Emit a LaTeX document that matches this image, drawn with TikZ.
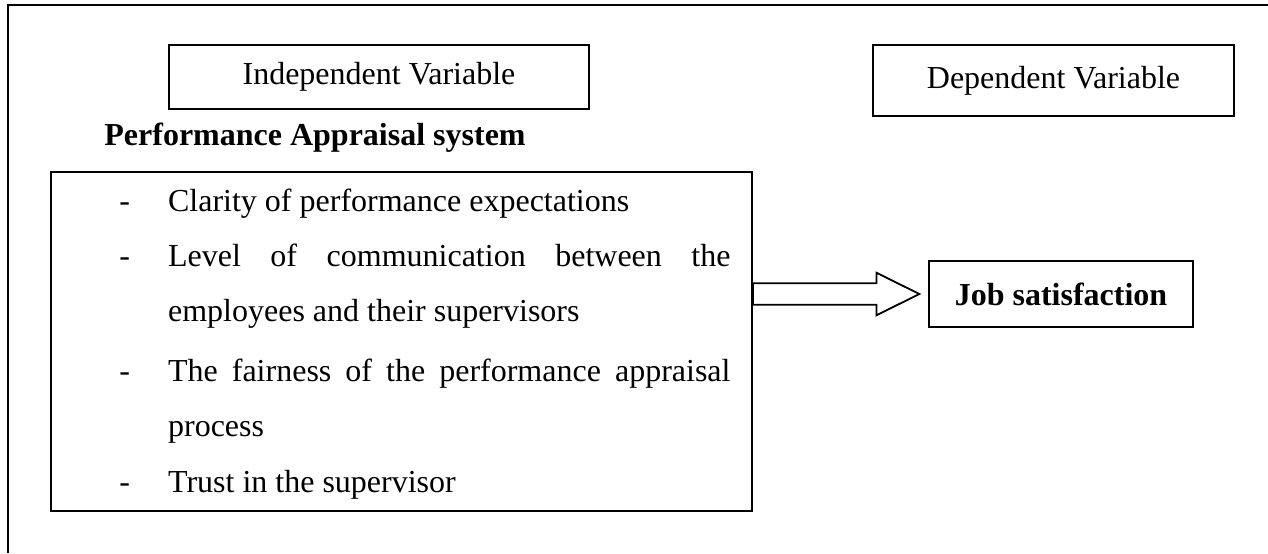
\documentclass[tikz,border=0pt]{standalone}
\usepackage{fontspec}
\setmainfont{Liberation Serif}
\usetikzlibrary{calc}
\tikzset{
    varbox/.style={draw,line width=0.9pt,inner sep=0pt},
    item/.style={anchor=base west,inner sep=0pt},
    every node/.append style={font=\fontsize{16}{19}\selectfont}
}

\begin{document}
\begin{tikzpicture}[x=0.5pt,y=-0.5pt]
    \useasboundingbox (0,0) rectangle (1268,553);
    \draw[line width=0.9pt] (1268,5) -- (8,5) -- (8,553);
    % variable headings
    \node[varbox,minimum width=209.9pt,minimum height=32pt] (indep) at (379,76.7) {Independent Variable};
    \node[varbox,minimum width=180.5pt,minimum height=35.7pt] (dep) at (1053.5,80.4) {Dependent Variable};
    \node[item,font=\fontsize{16}{19}\selectfont\bfseries] (pas) at (104,145) {Performance Appraisal system};
    % list of factors
    \node[varbox,minimum width=350.5pt,minimum height=169.5pt] (main) at (401.5,341.5) {};
    \foreach \y/\n in {211.7/1,266.7/2,381.7/3,492.7/4}
        \node[item] (dash\n) at (119,\y) {-};
    \node[item] (clarity) at (167.7,211.7) {Clarity of performance expectations};
    \node[item] (level) at (167.7,266.7) {\makebox[281.2pt][s]{Level of communication between the}};
    \node[item] (employees) at (167.7,321.7) {employees and their supervisors};
    \node[item] (fairness) at (167.7,381.7) {\makebox[281.2pt][s]{The fairness of the performance appraisal}};
    \node[item] (process) at (167.7,436.7) {process};
    \node[item] (trust) at (167.7,492.7) {Trust in the supervisor};
    % outcome
    \node[varbox,font=\fontsize{16}{19}\selectfont\bfseries,minimum width=131.7pt,minimum height=33.3pt] (job) at (1061,294) {Job satisfaction};
    \draw[line width=0.9pt] ($(job.west)+(-9,0)$) coordinate (tip) -- ++(-43,-21.3) coordinate (hb)
        -- ++(0,10.6) -- ($(main.east |- tip)+(0,-10.7)$) -- ($(main.east |- tip)+(0,10.7)$)
        -- ($(hb)+(0,32)$) -- ($(hb)+(0,42.6)$) -- cycle;
\end{tikzpicture}
\end{document}
